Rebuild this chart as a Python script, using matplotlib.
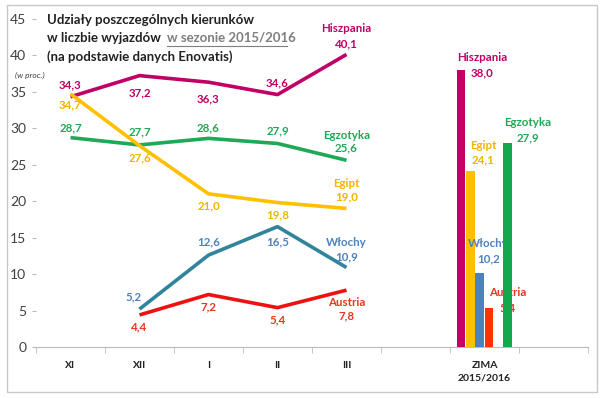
import matplotlib.pyplot as plt
from matplotlib.patches import Rectangle

plt.rcParams['font.family'] = ['Lato', 'DejaVu Sans']

months = ['XI', 'XII', 'I', 'II', 'III']
hiszpania = [34.3, 37.2, 36.3, 34.6, 40.1]
egzotyka = [28.7, 27.7, 28.6, 27.9, 25.6]
egipt = [34.7, 27.6, 21.0, 19.8, 19.0]
wlochy = [None, 5.2, 12.6, 16.5, 10.9]
austria = [None, 4.4, 7.2, 5.4, 7.8]

bar_names = ['Hiszpania', 'Egipt', 'Włochy', 'Austria', 'Egzotyka']
bar_values = [38.0, 24.1, 10.2, 5.4, 27.9]

xlabels = months + ['', 'ZIMA\n2015/2016', '']

# colours (line, label)
c_hisz = '#C00066'
c_egz = '#1FA855'
c_egi = '#FFC000'
c_egi_txt = '#F2B400'
c_wlo = '#31849B'
c_wlo_txt = '#4F81BD'
c_aus = '#EE1111'
c_aus_txt = '#E8351E'

LBL = 8.3

fig = plt.figure(figsize=(6, 3.98), dpi=100)
fig.patches.append(Rectangle((0.012, 0.015), 0.983, 0.972, transform=fig.transFigure,
                             fill=False, edgecolor='#c8c8c8', lw=1.0))
ax = fig.add_axes([0.06, 0.128, 0.92, 0.825])

def fmt(v):
    return f'{v:.1f}'.replace('.', ',')

def series(vals, color, txtcolor, offsets, name, name_dy):
    xs = [i for i, v in enumerate(vals) if v is not None]
    ys = [v for v in vals if v is not None]
    ax.plot(xs, ys, color=color, lw=2.6, solid_capstyle='butt', zorder=3)
    for x, y, (dx, dy) in zip(xs, ys, offsets):
        ax.annotate(fmt(y), (x, y), xytext=(dx, dy), textcoords='offset pixels',
                    ha='center', va='center', fontsize=LBL, fontweight='bold', color=txtcolor)
    ax.annotate(name, (xs[-1], ys[-1]), xytext=(0, name_dy), textcoords='offset pixels',
                ha='center', va='center', fontsize=LBL, fontweight='bold', color=txtcolor)

series(hiszpania, c_hisz, c_hisz, [(0, 12), (0, -17), (0, -17), (0, 12), (0, 11)], 'Hiszpania', 26)
series(egzotyka, c_egz, c_egz, [(0, 10), (0, 13), (0, 11), (0, 13), (0, 12)], 'Egzotyka', 25)
series(egipt, c_egi, c_egi_txt, [(0, -11), (0, -12), (0, -12), (0, -12), (0, 12)], 'Egipt', 25)
series(wlochy, c_wlo, c_wlo_txt, [(-6, 12), (0, 13), (0, -15), (0, 11)], 'Włochy', 25)
series(austria, c_aus, c_aus_txt, [(0, -12), (0, -12), (0, -12), (0, -26)], 'Austria', -12)

# winter bars (the last one sits on top of the neighbouring labels)
bar_x = [6 - 0.34, 6 - 0.205, 6 - 0.07, 6 + 0.065, 6 + 0.335]
bar_colors = [c_hisz, c_egi, '#4F81BD', '#FF3300', '#14A84E']
bar_txt = [c_hisz, c_egi_txt, c_wlo_txt, c_aus_txt, c_egz]
bar_off = [(21, -3), (13, 11), (9, 14), (19, 0), (20, 6)]
ax.bar(bar_x[:-1], bar_values[:-1], width=0.128, color=bar_colors[:-1], zorder=3)
ax.bar(bar_x[-1:], bar_values[-1:], width=0.128, color=bar_colors[-1:], zorder=5)
for x, v, n, tc, (dx, dy) in zip(bar_x, bar_values, bar_names, bar_txt, bar_off):
    ax.annotate(fmt(v), (x, v), xytext=(dx, dy), textcoords='offset pixels',
                ha='center', va='center', fontsize=LBL, fontweight='bold', color=tc, zorder=4)
    ax.annotate(n, (x, v), xytext=(dx, dy + 15), textcoords='offset pixels',
                ha='center', va='center', fontsize=LBL, fontweight='bold', color=tc, zorder=4)

ax.set_xlim(-0.5, 7.5)
ax.set_ylim(0, 45)
ax.set_yticks(range(0, 46, 5))
ax.set_xticks(range(8))
ax.set_xticklabels(xlabels, fontsize=7.5, fontweight='bold', color='#222222', linespacing=1.5)
ax.set_xticks([i + 0.5 for i in range(-1, 8)], minor=True)
ax.tick_params(axis='x', which='major', length=0, pad=10)
ax.tick_params(axis='x', which='minor', length=4, color='#bbbbbb')
ax.tick_params(axis='y', length=3, color='#bbbbbb', labelsize=10, labelcolor='#404040', pad=4)
for s in ['top', 'right', 'left']:
    ax.spines[s].set_visible(False)
ax.spines['bottom'].set_color('#bbbbbb')

fig.text(0.078, 0.95, 'Udziały poszczególnych kierunków', fontsize=9.5, fontweight='bold',
         color='#222222', va='center')
fig.text(0.078, 0.905, 'w liczbie wyjazdów', fontsize=9.5, fontweight='bold',
         color='#222222', va='center')
fig.text(0.279, 0.905, 'w sezonie 2015/2016', fontsize=9.5, fontweight='bold',
         color='#7f7f7f', va='center')
fig.add_artist(plt.Line2D([0.279, 0.479], [0.885, 0.885], color='#7f7f7f', lw=0.8))
fig.text(0.078, 0.857, '(na podstawie danych Enovatis)', fontsize=9.5, fontweight='bold',
         color='#222222', va='center')
fig.text(0.025, 0.81, '(w proc.)', fontsize=6, style='italic', color='#404040', va='center')

fig.savefig('out.png', dpi=100)
